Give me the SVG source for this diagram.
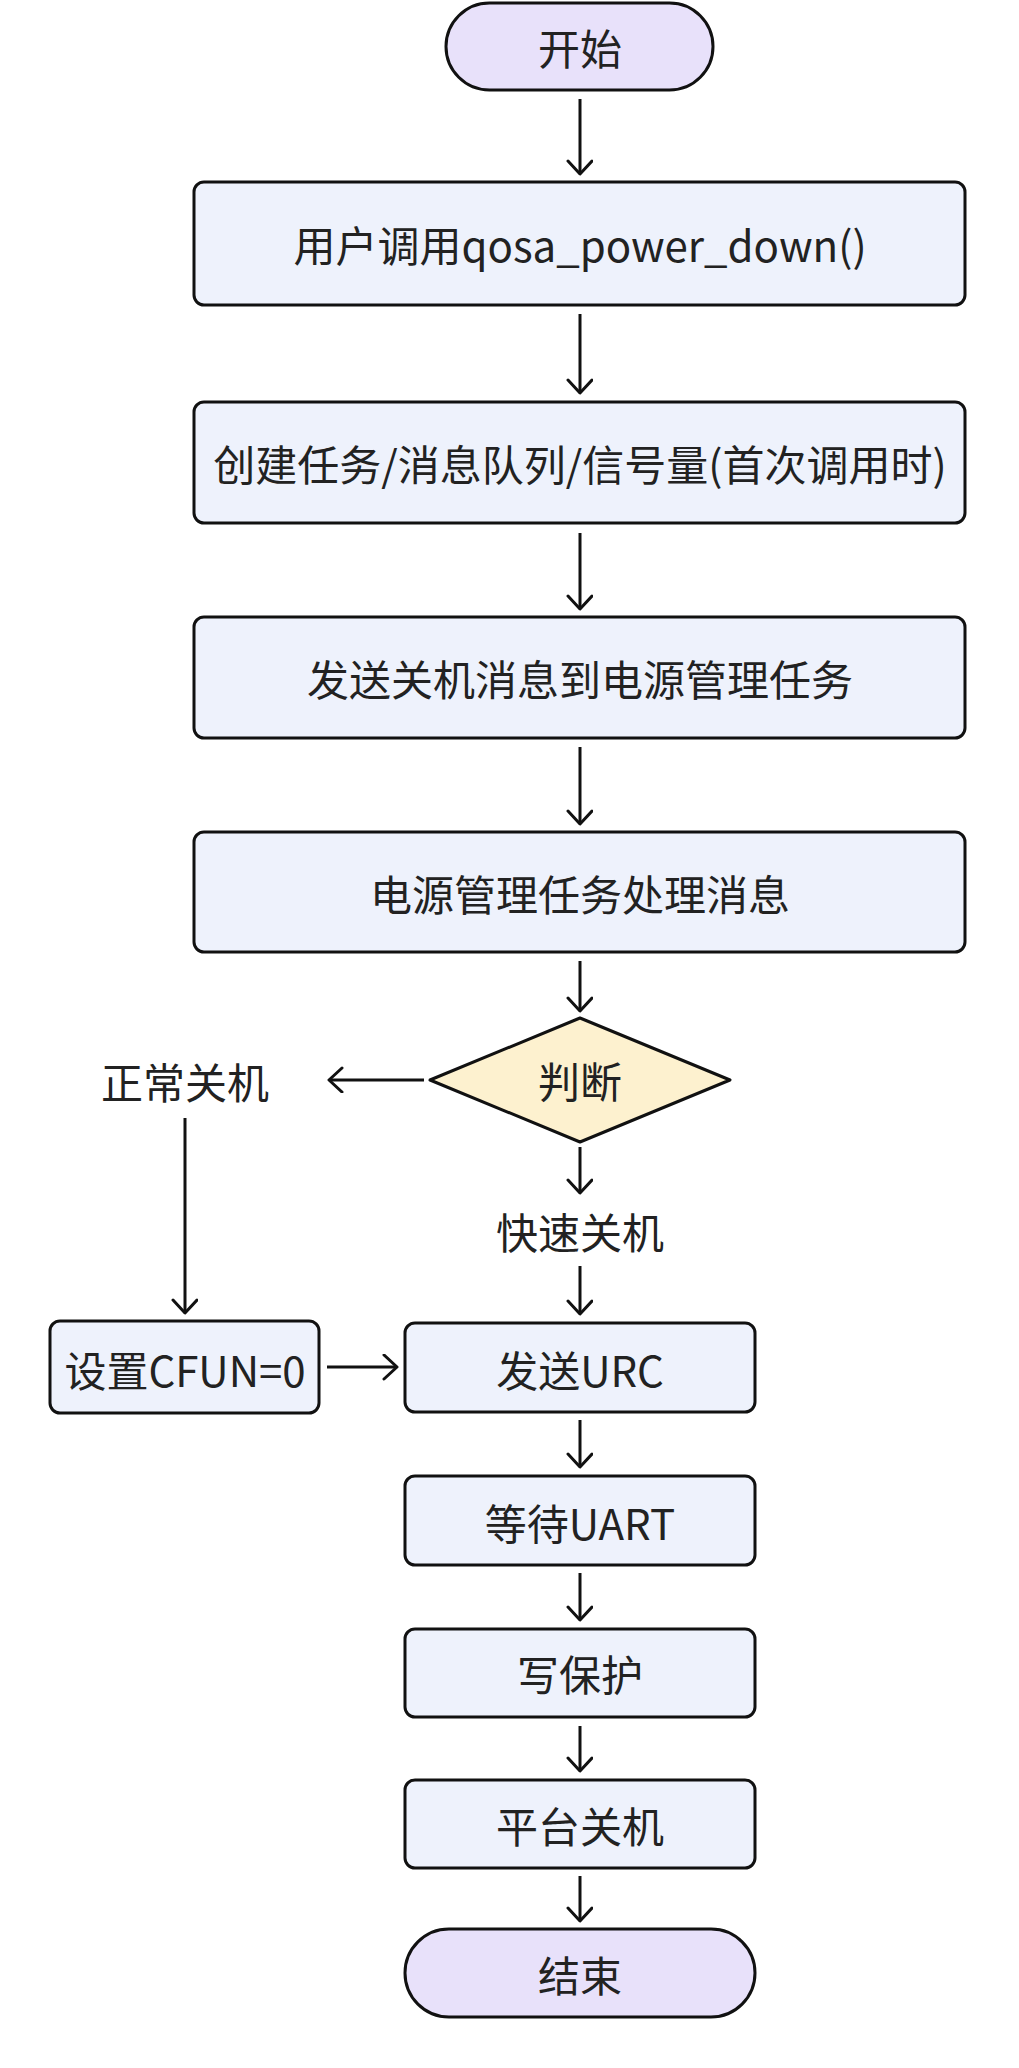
<svg xmlns="http://www.w3.org/2000/svg" width="1019" height="2068" viewBox="0 0 1019 2068">
<defs>
<marker id="arr" markerUnits="userSpaceOnUse" markerWidth="20" markerHeight="30" refX="15" refY="13" orient="auto" viewBox="0 0 20 30">
<path d="M2,1 L15,13 L2,25" fill="none" stroke="#111" stroke-width="3" stroke-linecap="round" stroke-linejoin="round"/>
</marker>
<style>
.box{fill:#EEF2FC;stroke:#111;stroke-width:3}
.term{fill:#E8E1FA;stroke:#111;stroke-width:3}
.dec{fill:#FDF1CF;stroke:#111;stroke-width:3;stroke-linejoin:round}
.t{font-family:"Noto Sans CJK SC","Noto Sans",sans-serif;font-size:42px;fill:#222;text-anchor:middle;dominant-baseline:central}
.c{stroke:#111;stroke-width:3;fill:none;marker-end:url(#arr)}
</style>
</defs>
<rect width="1019" height="2068" fill="#ffffff"/>
<g id="connectors">
<line class="c" x1="580" y1="99" x2="580" y2="174"/>
<line class="c" x1="580" y1="314" x2="580" y2="393"/>
<line class="c" x1="580" y1="533" x2="580" y2="609"/>
<line class="c" x1="580" y1="747" x2="580" y2="824"/>
<line class="c" x1="580" y1="961" x2="580" y2="1011"/>
<line class="c" x1="424" y1="1080" x2="329" y2="1080"/>
<line class="c" x1="185" y1="1118" x2="185" y2="1313"/>
<line class="c" x1="327" y1="1367" x2="397" y2="1367"/>
<line class="c" x1="580" y1="1147" x2="580" y2="1193"/>
<line class="c" x1="580" y1="1266" x2="580" y2="1314"/>
<line class="c" x1="580" y1="1420" x2="580" y2="1467"/>
<line class="c" x1="580" y1="1573" x2="580" y2="1620"/>
<line class="c" x1="580" y1="1726" x2="580" y2="1771"/>
<line class="c" x1="580" y1="1876" x2="580" y2="1921"/>
</g>
<g id="start"><rect class="term" x="446" y="3" width="267" height="87" rx="43.5"/><text class="t" x="580" y="46">开始</text></g>
<g id="call"><rect class="box" x="194" y="182" width="771" height="123" rx="10"/><text class="t" x="580" y="243">用户调用qosa_power_down()</text></g>
<g id="create"><rect class="box" x="194" y="402" width="771" height="121" rx="10"/><text class="t" x="580" y="462">创建任务/消息队列/信号量(首次调用时)</text></g>
<g id="send"><rect class="box" x="194" y="617" width="771" height="121" rx="10"/><text class="t" x="580" y="677">发送关机消息到电源管理任务</text></g>
<g id="handle"><rect class="box" x="194" y="832" width="771" height="120" rx="10"/><text class="t" x="580" y="892">电源管理任务处理消息</text></g>
<g id="judge"><polygon class="dec" points="580,1018 730,1080 580,1142 430,1080"/><text class="t" x="580" y="1079">判断</text></g>
<g id="normal"><text class="t" x="185" y="1080">正常关机</text></g>
<g id="fast"><text class="t" x="580" y="1230">快速关机</text></g>
<g id="cfun"><rect class="box" x="50" y="1321" width="269" height="92" rx="10"/><text class="t" x="185" y="1368">设置CFUN=0</text></g>
<g id="urc"><rect class="box" x="405" y="1323" width="350" height="89" rx="10"/><text class="t" x="580" y="1368">发送URC</text></g>
<g id="uart"><rect class="box" x="405" y="1476" width="350" height="89" rx="10"/><text class="t" x="580" y="1521">等待UART</text></g>
<g id="wp"><rect class="box" x="405" y="1629" width="350" height="88" rx="10"/><text class="t" x="580" y="1672">写保护</text></g>
<g id="off"><rect class="box" x="405" y="1780" width="350" height="88" rx="10"/><text class="t" x="580" y="1824">平台关机</text></g>
<g id="end"><rect class="term" x="405" y="1929" width="350" height="88" rx="44"/><text class="t" x="580" y="1973">结束</text></g>
</svg>
